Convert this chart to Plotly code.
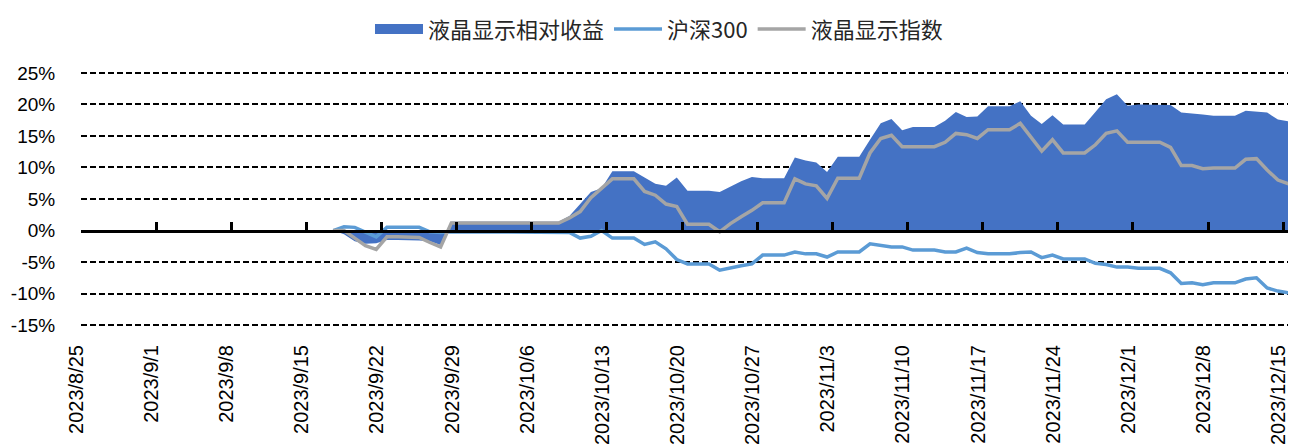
import pandas as pd
import plotly.graph_objects as go

# ---------------- data (daily, 2023/9/17 - 2023/12/15) ----------------
start_date = "2023-09-17"
end_date = "2023-12-15"

# 液晶显示指数 (%)
index_vals = [
    0.0, 0.0, -1.2, -2.4, -3.0, -1.0, -1.0, -1.0, -1.1, -1.9, -2.6, 1.2, 1.2, 1.2,      # 9/17-9/30
    1.2, 1.2, 1.2, 1.2, 1.2, 1.2, 1.2, 1.2, 2.0, 3.0, 5.2, 6.7, 8.2, 8.2, 8.2,          # 10/1-10/15
    6.2, 5.6, 4.2, 3.8, 1.0, 1.0, 1.0, -0.2, 1.1, 2.2, 3.2, 4.4, 4.4, 4.4, 8.2, 7.4,     # 10/16-10/31
    7.1, 5.1, 8.3, 8.3, 8.3, 12.3, 14.6, 15.1, 13.3, 13.3, 13.3, 13.3, 14.0, 15.4, 15.2, # 11/1-11/15
    14.6, 16.0, 16.0, 16.0, 17.0, 14.8, 12.6, 14.4, 12.3, 12.3, 12.3, 13.6, 15.4, 15.8, 14.0,  # 11/16-11/30
    14.0, 14.0, 14.0, 13.2, 10.3, 10.3, 9.8, 9.9, 9.9, 9.9, 11.3, 11.4, 9.6, 8.0, 7.4,  # 12/1-12/15
]

# 沪深300 (%)
hs300_vals = [
    0.0, 0.6, 0.5, -0.3, -1.0, 0.5, 0.5, 0.5, 0.5, -0.2, -0.3, -0.2, -0.2, -0.2,
    -0.2, -0.2, -0.2, -0.2, -0.2, -0.2, -0.2, -0.2, -0.3, -1.2, -0.9, 0.0, -1.2, -1.2, -1.2,
    -2.2, -1.8, -2.9, -4.6, -5.3, -5.3, -5.3, -6.3, -5.9, -5.6, -5.3, -3.9, -3.9, -3.9, -3.4, -3.7,
    -3.7, -4.2, -3.4, -3.4, -3.4, -2.1, -2.4, -2.6, -2.6, -3.1, -3.1, -3.1, -3.4, -3.4, -2.8,
    -3.5, -3.7, -3.7, -3.7, -3.5, -3.4, -4.3, -3.9, -4.5, -4.5, -4.5, -5.2, -5.4, -5.8, -5.8,
    -6.0, -6.0, -6.0, -6.7, -8.4, -8.3, -8.6, -8.3, -8.3, -8.3, -7.7, -7.5, -9.1, -9.6, -9.9,
]

# 液晶显示相对收益 (%)
relative_vals = [
    0.0, -0.6, -1.7, -2.1, -2.0, -1.5, -1.5, -1.5, -1.6, -1.7, -2.3, 1.4, 1.4, 1.4,
    1.4, 1.4, 1.4, 1.4, 1.4, 1.4, 1.4, 1.4, 2.3, 4.2, 6.1, 6.7, 9.4, 9.4, 9.4,
    8.4, 7.4, 7.1, 8.4, 6.3, 6.3, 6.3, 6.1, 7.0, 7.8, 8.5, 8.3, 8.3, 8.3, 11.6, 11.1,
    10.8, 9.3, 11.7, 11.7, 11.7, 14.4, 17.0, 17.7, 15.9, 16.4, 16.4, 16.4, 17.4, 18.8, 18.0,
    18.1, 19.7, 19.7, 19.7, 20.5, 18.2, 16.9, 18.3, 16.8, 16.8, 16.8, 18.8, 20.8, 21.6, 19.8,
    20.0, 20.0, 20.0, 19.9, 18.7, 18.6, 18.4, 18.2, 18.2, 18.2, 19.0, 18.9, 18.7, 17.6, 17.3,
]

tick_dates = ["2023-08-25", "2023-09-01", "2023-09-08", "2023-09-15", "2023-09-22",
              "2023-09-29", "2023-10-06", "2023-10-13", "2023-10-20", "2023-10-27",
              "2023-11-03", "2023-11-10", "2023-11-17", "2023-11-24", "2023-12-01",
              "2023-12-08", "2023-12-15"]
tick_labels = ["2023/8/25", "2023/9/1", "2023/9/8", "2023/9/15", "2023/9/22",
               "2023/9/29", "2023/10/6", "2023/10/13", "2023/10/20", "2023/10/27",
               "2023/11/3", "2023/11/10", "2023/11/17", "2023/11/24", "2023/12/1",
               "2023/12/8", "2023/12/15"]

y_ticks = [-15, -10, -5, 0, 5, 10, 15, 20, 25]
y_tick_labels = ["-15%", "-10%", "-5%", "0%", "5%", "10%", "15%", "20%", "25%"]

names = ["液晶显示相对收益", "沪深300", "液晶显示指数"]

# ---------------- figure ----------------
half_day = pd.Timedelta(hours=12)
dates = pd.date_range(start_date, end_date, freq="D") + half_day
tick_pos = pd.to_datetime(tick_dates)

x_range = [pd.Timestamp("2023-08-25"), pd.Timestamp("2023-12-16")]

fig = go.Figure()
fig.add_trace(go.Scatter(
    x=dates, y=relative_vals, name=names[0], mode="lines", showlegend=False,
    fill="tozeroy", fillcolor="#4472C4", line=dict(width=0, color="#4472C4"),
))
# legend swatch for the area series (no data drawn)
fig.add_trace(go.Scatter(
    x=[dates[0]], y=[None], name=names[0], mode="lines",
    line=dict(width=15, color="#4472C4"), hoverinfo="skip",
))
fig.add_trace(go.Scatter(
    x=dates, y=hs300_vals, name=names[1], mode="lines",
    line=dict(width=3.5, color="#5B9BD5"),
))
fig.add_trace(go.Scatter(
    x=dates, y=index_vals, name=names[2], mode="lines",
    line=dict(width=3.5, color="#A5A5A5"),
))
# helper trace so the zero-line axis (x2) is drawn
fig.add_trace(go.Scatter(
    x=[tick_pos[0]], y=[None], xaxis="x2", showlegend=False,
    hoverinfo="skip", mode="lines",
))

fig.update_layout(
    width=1296, height=447,
    margin=dict(l=73, r=10, t=63, b=128, autoexpand=False),
    paper_bgcolor="white", plot_bgcolor="white",
    font=dict(family="Liberation Sans, Arial, sans-serif", color="black"),
    showlegend=True,
    legend=dict(
        orientation="h", x=0.4765, xanchor="center", y=1.245, yanchor="top",
        font=dict(family="Noto Sans CJK SC", size=22, color="#262626"),
        itemwidth=48, tracegroupgap=0, bgcolor="rgba(0,0,0,0)",
    ),
    xaxis=dict(
        type="date", range=x_range, automargin=False,
        tickmode="array", tickvals=[t + half_day for t in tick_pos], ticktext=tick_labels,
        tickangle=-90, tickfont=dict(size=20, family="Liberation Sans, Arial"),
        ticklabelshift=-10,
        ticks="outside", ticklen=9, tickcolor="rgba(0,0,0,0)",
        showgrid=False, showline=False, zeroline=False,
    ),
    xaxis2=dict(
        type="date", range=x_range, overlaying="x", anchor="free", position=0.3768,
        side="bottom", tickmode="array", tickvals=list(tick_pos), showticklabels=False,
        ticks="inside", ticklen=8, tickwidth=2.5, tickcolor="black",
        showline=True, linecolor="black", linewidth=2.5, showgrid=False,
        zeroline=False, layer="above traces",
    ),
    yaxis=dict(
        range=[-15.3, 25.3], automargin=False, tickmode="array",
        tickvals=y_ticks, ticktext=y_tick_labels,
        tickfont=dict(size=19, family="Liberation Sans, Arial"),
        ticks="outside", ticklen=21, tickcolor="rgba(0,0,0,0)",
        showgrid=True, gridcolor="black", gridwidth=2, griddash="6px,3px",
        zeroline=False, showline=False,
    ),
)

fig.write_html("out.html")
